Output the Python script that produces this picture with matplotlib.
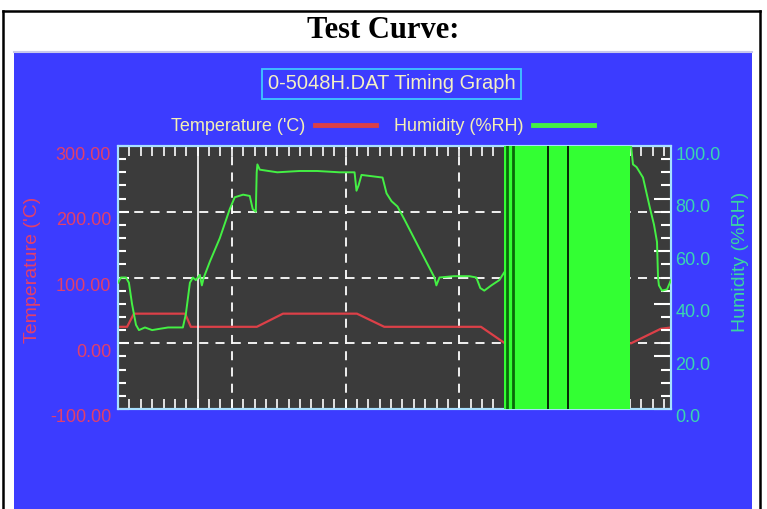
import matplotlib
matplotlib.use("Agg")
from matplotlib import pyplot as plt
from matplotlib.lines import Line2D
from matplotlib.ticker import MultipleLocator, FormatStrFormatter
from matplotlib.transforms import ScaledTranslation

# time axis in grid units (10 units per dashed vertical grid line)
temp_t = [0, 0.8, 1.4, 5.9, 6.4, 12.2, 14.5, 21.0, 23.4, 31.9, 34.0, 45.1, 47.7, 48.6]
temp_c = [25, 25, 45, 45, 25, 25, 45, 45, 25, 25, 0, 0, 22, 24]

hum_t = [0, 0.26, 0.70, 0.96, 1.23, 1.58, 1.84, 2.37, 3.0, 3.68, 4.4, 5.0, 5.70, 5.96,
         6.32, 6.58, 6.84, 7.19, 7.37, 7.54, 8.07, 8.95, 9.82, 10.26, 11.0, 11.58, 11.84,
         12.11, 12.19, 12.25, 12.46, 14.0, 15.96, 17.5, 19.47, 20.79, 20.96, 21.14, 21.40,
         23.25, 23.60, 24.04, 24.56, 25.18, 26.49, 27.81, 27.98, 28.25, 29.5, 30.88, 31.49,
         31.84, 32.19, 32.81, 33.51, 33.95, 45.09, 45.26, 45.57, 46.14, 46.75, 47.11, 47.37,
         47.46, 47.54, 47.81, 48.25, 48.6]
hum_rh = [48, 50, 50, 48, 40, 32, 30, 31, 30, 30.5, 31, 31, 31, 36,
          48, 50, 49, 51, 47, 50, 56, 65, 76, 80.5, 81.5, 81, 76,
          75, 90, 93, 91, 90, 90.5, 90.5, 90, 90, 83, 85, 89,
          88, 82, 79, 77, 72, 61, 50, 47, 50, 50.5, 50.5, 50,
          46, 45, 47, 49, 52, 100, 93, 92, 88, 76.4, 70, 63.5,
          50, 47, 45, 45.5, 49]

# saturated humidity band (sensor fault) and the gaps inside it
band_t = [33.95, 44.96]
dark_gaps = [34.2, 34.75]
black_gaps = [37.76, 39.52]
cursor_t = 7.0

temp_ticks = [-100, 0, 100, 200, 300]
hum_ticks = [0, 20, 40, 60, 80, 100]

BLUE = "#3c3cff"
NARROW = ["Liberation Sans Narrow", "Liberation Sans", "DejaVu Sans"]

fig = plt.figure(figsize=(7.67, 5.09), dpi=100)
fig.patch.set_facecolor("white")

# blue panel + document frame
fig.patches.append(plt.Rectangle((14 / 767, 0), 738 / 767, 1 - 52 / 509,
                                 transform=fig.transFigure, facecolor=BLUE,
                                 edgecolor="none", zorder=-5))
fig.lines.append(Line2D([14 / 767, 752 / 767], [1 - 51.5 / 509] * 2,
                        transform=fig.transFigure, color="#c8c8ec", lw=1.5, zorder=-4))
for xs, ys in [([3 / 767, 3 / 767], [0, 1 - 11 / 509]),
               ([760 / 767, 760 / 767], [0, 1 - 11 / 509]),
               ([3 / 767, 760 / 767], [1 - 11 / 509] * 2)]:
    fig.lines.append(Line2D(xs, ys, transform=fig.transFigure, color="black", lw=1.8,
                            zorder=-4))

fig.text(0.499, 0.940, "Test Curve:", ha="center", va="center", fontsize=22,
         fontweight="bold", family="Liberation Serif", color="black")

ax = fig.add_axes([118 / 767, 1 - 409 / 509, 553 / 767, 263 / 509])
ax.set_facecolor("#3b3b3b")
ax2 = ax.twinx()

l_temp, = ax.plot(temp_t, temp_c, color="#dc4048", lw=1.6, zorder=3)
l_hum, = ax2.plot(hum_t, hum_rh, color="#44f044", lw=1.4, zorder=3)

ax2.fill_between(band_t, 0, 100, color="#33ff33", lw=0, zorder=4)
for g in dark_gaps:
    ax2.axvline(g, color="#0a6a0a", lw=2, zorder=5)
for g in black_gaps:
    ax2.axvline(g, color="black", lw=1.2, zorder=5)
ax.axvline(cursor_t, color="white", lw=1.2, zorder=4)

ax.set_xlim(0, 48.6)
ax.set_ylim(-100, 300)
ax2.set_ylim(0, 100)

ax.xaxis.set_major_locator(MultipleLocator(10))
ax.xaxis.set_minor_locator(MultipleLocator(1))
ax.set_yticks(temp_ticks)
ax.yaxis.set_minor_locator(MultipleLocator(20))
ax.yaxis.set_major_formatter(FormatStrFormatter("%.2f"))
ax2.set_yticks(hum_ticks)
ax2.yaxis.set_minor_locator(MultipleLocator(5))
ax2.yaxis.set_major_formatter(FormatStrFormatter("%.1f"))

ax.grid(True, which="major", color="white", lw=1.3, linestyle=(0, (5, 4)), zorder=1)
ax.tick_params(axis="x", which="both", direction="in", top=True, bottom=True,
               labelbottom=False, length=7, width=1.2, color="white")
ax.tick_params(axis="y", which="major", direction="in", length=8, width=1.5,
               color="white", labelcolor="#e2406a", labelsize=13, pad=5)
ax.tick_params(axis="y", which="minor", direction="in", length=5.5, width=1.5, color="white")
ax2.tick_params(axis="y", which="major", direction="in", length=12, width=1.5,
                color="white", labelcolor="#3ad6b0", labelsize=13, pad=3)
ax2.tick_params(axis="y", which="minor", direction="in", length=7, width=1.5, color="white")

off = ScaledTranslation(0, -0.07, fig.dpi_scale_trans)
for lab in ax.get_yticklabels() + ax2.get_yticklabels():
    lab.set_transform(lab.get_transform() + off)
    lab.set_family(NARROW)

for a in (ax, ax2):
    for sp in a.spines.values():
        sp.set_color("#a8e0ff")
        sp.set_linewidth(1.5)

fig.text(0.043, 0.47, "Temperature ('C)", rotation=90, ha="center", va="center",
         fontsize=14, color="#e2406a", family=NARROW)
fig.text(0.965, 0.485, "Humidity (%RH)", rotation=90, ha="center", va="center",
         fontsize=14, color="#3ad6a0", family=NARROW)

fig.text(0.511, 0.835, "0-5048H.DAT Timing Graph", ha="center", va="center",
         fontsize=14.5, color="#f4f0c4", family=NARROW,
         bbox=dict(facecolor="none", edgecolor="#40c8ff", lw=1.3, pad=4))

leg = fig.legend([l_temp, l_hum], ["Temperature ('C)", "Humidity (%RH)"],
                 loc="center", bbox_to_anchor=(0.499, 0.7505), ncol=2, frameon=False,
                 markerfirst=False, handlelength=3.4, handletextpad=0.5,
                 columnspacing=1.0, prop={"family": NARROW, "size": 13})
for t in leg.get_texts():
    t.set_color("#f4f0b4")
for ln in leg.get_lines():
    ln.set_linewidth(3.5)

fig.savefig("out.png", dpi=100)
